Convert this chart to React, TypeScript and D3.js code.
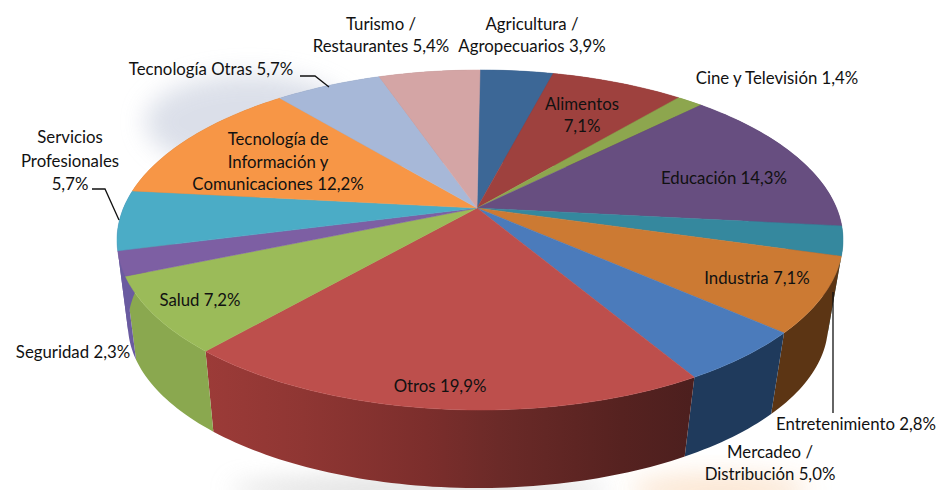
import * as d3 from "d3"

// Values, clockwise from 12 o'clock
const categories = [
  "Agricultura",
  "Alimentos",
  "Cine y Televisión",
  "Educación",
  "Entretenimiento",
  "Industria",
  "Mercadeo",
  "Otros",
  "Salud",
  "Seguridad",
  "Servicios Profesionales",
  "Tecnología de Información",
  "Tecnología Otras",
  "Turismo",
]
const shares = [3.9, 7.1, 1.4, 14.3, 2.8, 7.1, 5.0, 19.9, 7.2, 2.3, 5.7, 12.2, 5.7, 5.4]
const topColors = [
  "#3c6796", "#9e413e", "#8da64e", "#674e80", "#35889e", "#cc7a33", "#4b7bbb",
  "#bd4f4c", "#9bbb59", "#7d5fa3", "#4bacc6", "#f79646", "#a7b8d8", "#d4a5a5",
]
const wallColors = [
  "#2c4c70", "#753130", "#69803a", "#4d3a60", "#286676", "#5c3514", "#1f3a5c",
  "url(#otrosWall)", "#8aa84f", "#6a5ba0", "#6a5ba0", "#b76f34", "#7c899f", "#9d7a7a",
]

// text lines of each label
const labelLines = [
  ["Turismo /", "Restaurantes 5,4%"],
  ["Agricultura /", "Agropecuarios 3,9%"],
  ["Cine y Televisión 1,4%"],
  ["Alimentos", "7,1%"],
  ["Educación 14,3%"],
  ["Industria 7,1%"],
  ["Entretenimiento 2,8%"],
  ["Mercadeo /", "Distribución 5,0%"],
  ["Otros 19,9%"],
  ["Salud 7,2%"],
  ["Seguridad 2,3%"],
  ["Servicios", "Profesionales", "5,7%"],
  ["Tecnología Otras 5,7%"],
  ["Tecnología de", "Información y", "Comunicaciones 12,2%"],
]
// [centre x, first baseline, line step] for each label above
const labelPlaces = [
  [381, 30, 22], [532, 30, 22], [777, 84, 0], [582, 110, 22], [724, 184, 0], [757, 284, 0],
  [856, 430, 0], [770, 458, 22], [440, 392, 0], [200, 306, 0], [73, 358, 0],
  [70, 143, 23.5], [211, 75, 0], [278, 145, 22.5],
]
const otrosStops = [
  [0, "#9c3b38"], [0.2, "#8f3633"], [0.45, "#7c2e2c"], [0.6, "#6b2a28"], [0.85, "#562220"], [1, "#4c1f1e"],
] as const

const topRim = { cx: 480, cy: 240, rx: 363, ry: 170 }
const baseRim = { cx: 478, cy: 325, rx: 350, ry: 163 }
// the slices meet above the middle of the ellipse, the view is in perspective
const tilt = 0.188

function project(angle: number, rim: typeof topRim): [number, number] {
  const u = Math.sin(angle)
  const v = -Math.cos(angle)
  const den = 1 - tilt * v
  return [
    rim.cx + (rim.rx * u * Math.sqrt(1 - tilt * tilt)) / den,
    rim.cy + (rim.ry * (v - tilt)) / den,
  ]
}

const apex: [number, number] = [topRim.cx - 3, topRim.cy - tilt * topRim.ry]

const pie = d3.pie<number>().sort(null).value((d) => d)
const arcs = pie(shares)
const line = d3.line()

function arcPoints(a: d3.PieArcDatum<number>, rim: typeof topRim) {
  const n = Math.max(2, Math.ceil((a.endAngle - a.startAngle) / 0.02))
  return d3.range(n + 1).map((i) => project(a.startAngle + ((a.endAngle - a.startAngle) * i) / n, rim))
}

export default function App() {
  return (
    <svg
      width={941}
      height={490}
      style={{ position: "absolute", left: 0, top: 0, display: "block", background: "#fff" }}
      fontFamily="Lato, sans-serif"
      fontSize={16.8}
    >
      <defs>
        <linearGradient id="otrosWall" gradientUnits="userSpaceOnUse" x1={205} x2={695} y1={0} y2={0}>
          {otrosStops.map(([o, c]) => (
            <stop key={o} offset={o} stopColor={c} />
          ))}
        </linearGradient>
        <filter id="soft" x="-30%" y="-60%" width="160%" height="220%">
          <feGaussianBlur stdDeviation={12} />
        </filter>
      </defs>

      {/* faint shadows the picture has round the pie */}
      <ellipse cx={250} cy={122} rx={105} ry={48} fill="#d3d8e4" opacity={0.8} filter="url(#soft)" />
      <ellipse cx={420} cy={490} rx={190} ry={14} fill="#d4d4d4" opacity={0.7} filter="url(#soft)" />
      <ellipse cx={720} cy={490} rx={90} ry={16} fill="#fbe3cc" opacity={0.9} filter="url(#soft)" />

      {/* side walls */}
      {arcs.map((a, i) => (
        <path
          key={categories[i] + "-wall"}
          d={line([...arcPoints(a, topRim), ...arcPoints(a, baseRim).reverse()]) + "Z"}
          fill={wallColors[i]}
        />
      ))}

      {/* top faces */}
      {arcs.map((a, i) => (
        <path
          key={categories[i]}
          d={line([apex, ...arcPoints(a, topRim)]) + "Z"}
          fill={topColors[i]}
          stroke={topColors[i]}
          strokeWidth={0.5}
        />
      ))}

      {/* leader lines */}
      <g fill="none" stroke="#111" strokeWidth={1.3}>
        <path d="M300,76H315L329,87" />
        <path d="M92,189H105L119,220" />
        <path d="M833,292V413" />
      </g>

      {labelLines.map((lines, i) => (
        <text key={i} textAnchor="middle" fill="#111">
          {lines.map((t, j) => (
            <tspan key={j} x={labelPlaces[i][0]} y={labelPlaces[i][1] + j * labelPlaces[i][2]}>
              {t}
            </tspan>
          ))}
        </text>
      ))}
    </svg>
  )
}
